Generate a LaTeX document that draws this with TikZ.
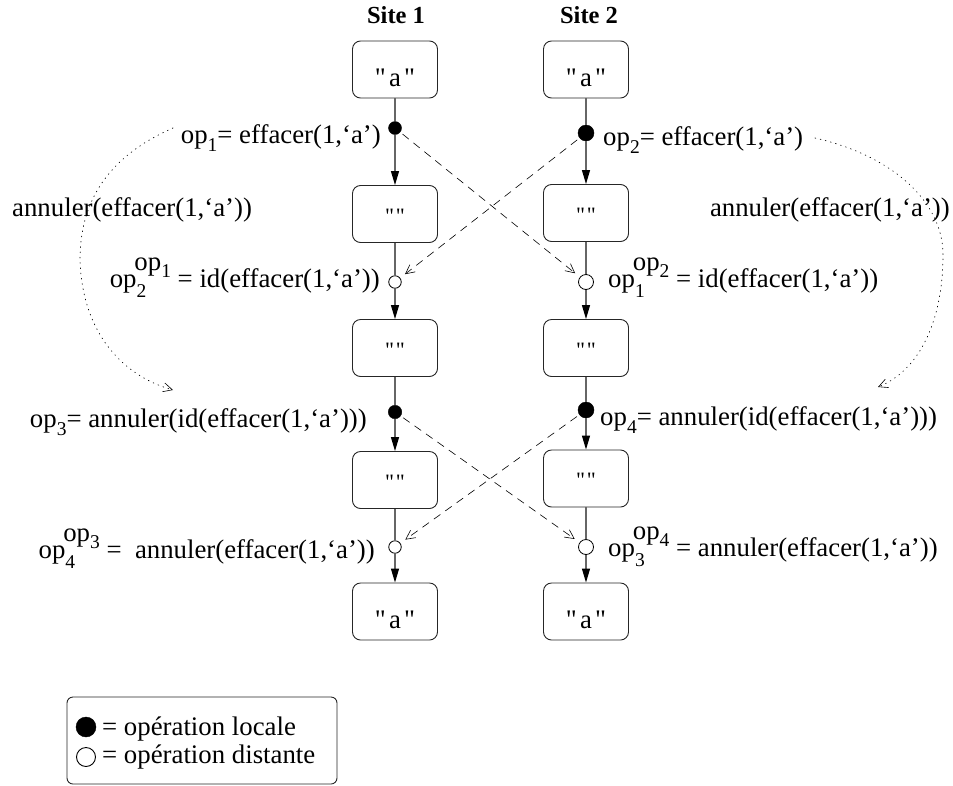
\documentclass[tikz,border=0pt]{standalone}
\usepackage{fontspec}
\setmainfont{Liberation Serif}
\usetikzlibrary{arrows.meta}
\newcommand\subsz{\fontsize{19.5}{19.5}\selectfont}
\newcommand\opone[1]{op\raisebox{-0.3em}{\subsz #1}}
\newcommand\opst[2]{op\rlap{\raisebox{-0.38em}{\subsz #1}}\kern-0.08em\raisebox{0.62em}{op\raisebox{-0.28em}{\subsz #2}}}
\newcommand\dq{\XeTeXglyph\XeTeXcharglyph"22\relax}
\tikzset{
  stbox/.style={draw=black!85, line width=0.9pt, rounded corners=8pt, minimum width=85pt, minimum height=57pt, inner sep=0pt},
  loc/.style={circle, fill=black, draw=black, inner sep=0pt, minimum size=#1},
  dist/.style={circle, fill=white, draw=black, line width=0.8pt, inner sep=0pt, minimum size=#1},
  lbl/.style={inner sep=0pt, font=\fontsize{26.8}{26.8}\selectfont},
  vline/.style={draw=black!60, line width=1.2pt},
  varrow/.style={draw=black!60, line width=1.2pt, -{Triangle[length=14pt,width=8pt,fill=black,color=black]}},
  sendarrow/.style={draw=black, line width=0.6pt, dash pattern=on 8pt off 6pt, -{Straight Barb[length=9pt,width=9pt,line width=0.6pt]}},
  undoarrow/.style={draw=black, line width=0.7pt, dash pattern=on 0.8pt off 4.5pt, line cap=round, -{Straight Barb[length=9pt,width=9pt,line width=0.6pt,line cap=butt]}},
}
\begin{document}
\begin{tikzpicture}[x=1pt,y=-1pt]
\useasboundingbox (0,0) rectangle (953,785);
% site headers
\node[inner sep=0pt, anchor=base, font=\fontsize{24.5}{24.5}\selectfont\bfseries] (s1) at (396,23) {Site 1};
\node[inner sep=0pt, anchor=base, font=\fontsize{24.5}{24.5}\selectfont\bfseries] (s2) at (589,23) {Site 2};
% boxes site 1
\node[stbox] (a1) at (395,69.5) {};
\node[stbox] (a2) at (395,214) {};
\node[stbox] (a3) at (395,348) {};
\node[stbox] (a4) at (395,480) {};
\node[stbox] (a5) at (395,611.5) {};
% boxes site 2
\node[stbox] (b1) at (586,69.5) {};
\node[stbox] (b2) at (586,213) {};
\node[stbox] (b3) at (586,348) {};
\node[stbox] (b4) at (586,478.5) {};
\node[stbox] (b5) at (586,611.5) {};
% box texts
\foreach \n in {a1, a5, b1, b5}{
  \node[lbl, anchor=base] at ([yshift=-16.5pt]\n.center) {\dq\kern0.12em a\kern0.12em\dq};
}
\foreach \n in {a2, a3, a4, b2, b3, b4}{
  \node[lbl, anchor=base, font=\fontsize{22}{22}\selectfont] at ([yshift=-9pt]\n.center) {\dq\kern0.08em\dq};
}
% operation dots
\node[loc=13pt] (o1) at (395,128) {};
\node[dist=12.5pt] (r21) at (395,282) {};
\node[loc=13.5pt] (o3) at (395,412) {};
\node[dist=12.5pt] (r43) at (395,547) {};
\node[loc=16pt] (o2) at (586,133) {};
\node[dist=15pt] (r12) at (586,282) {};
\node[loc=16pt] (o4) at (586,410) {};
\node[dist=15pt] (r34) at (586,547) {};
% vertical lines site 1
\draw[vline] (a1) -- (o1);
\draw[varrow] (o1) -- (a2);
\draw[vline] (a2) -- (r21);
\draw[varrow] (r21) -- (a3);
\draw[vline] (a3) -- (o3);
\draw[varrow] (o3) -- (a4);
\draw[vline] (a4) -- (r43);
\draw[varrow] (r43) -- (a5);
% vertical lines site 2
\draw[vline] (b1) -- (o2);
\draw[varrow] (o2) -- (b2);
\draw[vline] (b2) -- (r12);
\draw[varrow] (r12) -- (b3);
\draw[vline] (b3) -- (o4);
\draw[varrow] (o4) -- (b4);
\draw[vline] (b4) -- (r34);
\draw[varrow] (r34) -- (b5);
% dashed sends
\draw[sendarrow, shorten >=6pt, shorten <=3pt] (o1) -- (r12);
\draw[sendarrow, shorten >=6pt, shorten <=3pt] (o2) -- (r21);
\draw[sendarrow, shorten >=6pt, shorten <=3pt] (o3) -- (r34);
\draw[sendarrow, shorten >=6pt, shorten <=3pt] (o4) -- (r43);
% labels
\node[lbl, anchor=base east] (l1) at (381,143) {\opone{1}= effacer(1,‘a’)};
\node[lbl, anchor=base west] (l2) at (603,145) {\opone{2}= effacer(1,‘a’)};
\node[lbl, anchor=base east] (l21) at (380,287) {\opst{2}{1} = id(effacer(1,‘a’))};
\node[lbl, anchor=base west] (l12) at (608,287) {\opst{1}{2} = id(effacer(1,‘a’))};
\node[lbl, anchor=base east] (l3) at (367,427) {\opone{3}= annuler(id(effacer(1,‘a’)))};
\node[lbl, anchor=base west] (l4) at (600,425) {\opone{4}= annuler(id(effacer(1,‘a’)))};
\node[lbl, anchor=base east] (l43) at (375,558) {\opst{4}{3} =\ \ annuler(effacer(1,‘a’))};
\node[lbl, anchor=base west] (l34) at (608,556) {\opst{3}{4} = annuler(effacer(1,‘a’))};
\node[lbl, anchor=base west] (u1) at (12,216) {annuler(effacer(1,‘a’))};
\node[lbl, anchor=base east] (u2) at (950,216) {annuler(effacer(1,‘a’))};
% undo dotted curves
\coordinate (c1s) at (173,128);
\coordinate (c1m) at (80,260);
\coordinate (c1e) at (173,390);
\coordinate (c2s) at (815,138);
\coordinate (c2m) at (943,255);
\coordinate (c2e) at (878,387);
\draw[undoarrow] (c1s) .. controls (100,160) and (80,210) .. (c1m) .. controls (82,330) and (120,375) .. (c1e);
\draw[undoarrow] (c2s) .. controls (890,155) and (943,200) .. (c2m) .. controls (943,320) and (920,370) .. (c2e);
% legend
\node[draw=black!85, line width=0.9pt, rounded corners=6pt, minimum width=270pt, minimum height=87pt, inner sep=0pt] (leg) at (202,740.5) {};
\node[loc=20pt] (kl) at (86,727) {};
\node[dist=19pt, line width=0.9pt] (kd) at (86,757) {};
\node[lbl, anchor=base west] (tl) at (102,735) {= opération locale};
\node[lbl, anchor=base west] (td) at (102,763) {= opération distante};
\end{tikzpicture}
\end{document}
